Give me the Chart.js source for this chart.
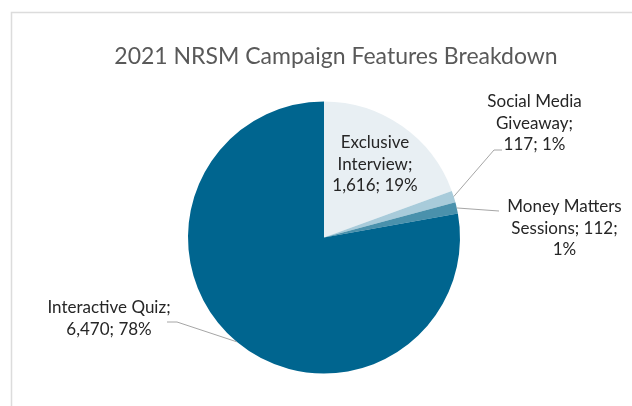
<!DOCTYPE html>
<html>
<head>
<meta charset="utf-8">
<script src="https://cdn.jsdelivr.net/npm/chart.js@4"></script>
<style>
  html, body { margin: 0; padding: 0; background: #ffffff; }
  canvas { display: block; }
</style>
</head>
<body>
<canvas id="chart" width="632" height="406"></canvas>
<script>
// Campaign feature usage, 2021
const chartTitle = '2021 NRSM Campaign Features Breakdown';
const categories = ['Exclusive Interview', 'Social Media Giveaway', 'Money Matters Sessions', 'Interactive Quiz'];
const participants = [1616, 117, 112, 6470];
const sliceColors = ['#E8EFF3', '#A8CBDA', '#4A91AC', '#00658F'];

// Label placement relative to the pie centre (text block centre x, first baseline y),
// wrap width, and optional leader-line points (elbow, end).
const labelLayout = [
  { dx: 51,    dy: -89.5,  wrap: 100, leader: null },
  { dx: 210.5, dy: -130.5, wrap: 100, leader: [[170, -87.5], [178, -87.5]] },
  { dx: 240.5, dy: -25.5,  wrap: 122, leader: [[175, -26.5]] },
  { dx: -215,  dy: 75.5,   wrap: 130, leader: [[-147, 84.5], [-157, 84.5]] }
];

const LABEL_FONT = '17px Lato';
const LINE_HEIGHT = 21.5;

function wrapWords(ctx, text, maxWidth) {
  const words = text.split(' ');
  const lines = [];
  let cur = '';
  for (const w of words) {
    const test = cur ? cur + ' ' + w : w;
    if (cur && ctx.measureText(test).width > maxWidth) {
      lines.push(cur);
      cur = w;
    } else {
      cur = test;
    }
  }
  if (cur) lines.push(cur);
  return lines;
}

const framePlugin = {
  id: 'frame',
  beforeDraw(chart) {
    const ctx = chart.ctx;
    ctx.save();
    ctx.fillStyle = '#ffffff';
    ctx.fillRect(0, 0, chart.width, chart.height);
    ctx.strokeStyle = '#DCDCDC';
    ctx.lineWidth = 1.5;
    ctx.beginPath();
    ctx.moveTo(11.5, chart.height);
    ctx.lineTo(11.5, 12.5);
    ctx.lineTo(chart.width, 12.5);
    ctx.stroke();
    // chart title
    ctx.fillStyle = '#595959';
    ctx.font = '23px Lato';
    ctx.textAlign = 'center';
    ctx.textBaseline = 'alphabetic';
    ctx.fillText(chartTitle, 336, 64);
    ctx.restore();
  }
};

const pieLabelPlugin = {
  id: 'pieLabels',
  afterDatasetsDraw(chart) {
    const ctx = chart.ctx;
    const meta = chart.getDatasetMeta(0);
    const data = chart.data.datasets[0].data;
    const total = data.reduce((a, b) => a + b, 0);
    ctx.save();
    ctx.font = LABEL_FONT;
    meta.data.forEach((arc, i) => {
      const p = arc.getProps(['x', 'y', 'startAngle', 'endAngle', 'outerRadius'], true);
      const cx = p.x, cy = p.y;
      const lay = labelLayout[i];
      if (lay.leader) {
        const mid = (p.startAngle + p.endAngle) / 2;
        const sx = cx + Math.cos(mid) * p.outerRadius;
        const sy = cy + Math.sin(mid) * p.outerRadius;
        ctx.strokeStyle = '#A6A6A6';
        ctx.lineWidth = 1;
        ctx.beginPath();
        ctx.moveTo(sx, sy);
        lay.leader.forEach(pt => ctx.lineTo(cx + pt[0], cy + pt[1]));
        ctx.stroke();
      }
      const pct = Math.round(data[i] / total * 100);
      const text = categories[i] + '; ' + data[i].toLocaleString('en-US') + '; ' + pct + '%';
      const lines = wrapWords(ctx, text, lay.wrap);
      ctx.fillStyle = '#262626';
      ctx.textAlign = 'center';
      ctx.textBaseline = 'alphabetic';
      lines.forEach((ln, k) => {
        ctx.fillText(ln, cx + lay.dx, cy + lay.dy + k * LINE_HEIGHT);
      });
    });
    ctx.restore();
  }
};

new Chart(document.getElementById('chart'), {
  type: 'pie',
  data: {
    labels: categories,
    datasets: [{
      data: participants,
      backgroundColor: sliceColors,
      borderWidth: 0,
      hoverOffset: 0
    }]
  },
  options: {
    responsive: false,
    animation: false,
    events: [],
    layout: { padding: { top: 101.5, bottom: 32.5, left: 116, right: 100 } },
    plugins: {
      legend: { display: false },
      title: { display: false },
      tooltip: { enabled: false }
    }
  },
  plugins: [framePlugin, pieLabelPlugin]
});
</script>
</body>
</html>
